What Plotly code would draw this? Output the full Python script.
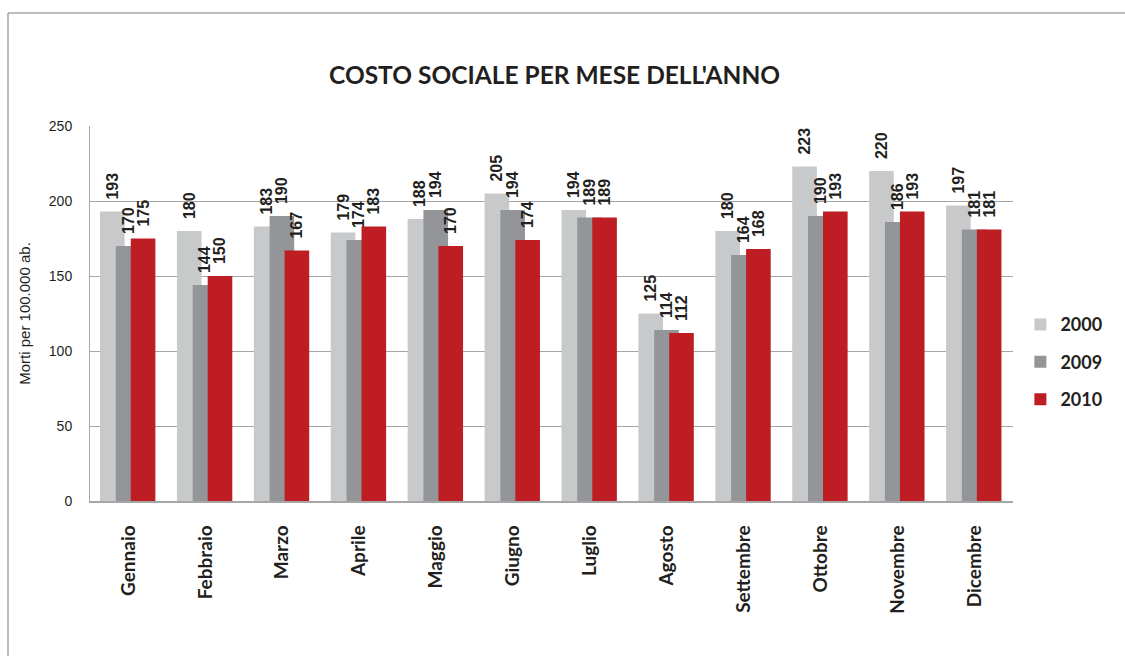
import plotly.graph_objects as go

mesi = ["Gennaio", "Febbraio", "Marzo", "Aprile", "Maggio", "Giugno",
        "Luglio", "Agosto", "Settembre", "Ottobre", "Novembre", "Dicembre"]
v2000 = [193, 180, 183, 179, 188, 205, 194, 125, 180, 223, 220, 197]
v2009 = [170, 144, 190, 174, 194, 194, 189, 114, 164, 190, 186, 181]
v2010 = [175, 150, 167, 183, 170, 174, 189, 112, 168, 193, 193, 181]
anni = ["2000", "2009", "2010"]
colori = ["#c8c9cb", "#939598", "#be1e23"]
offsets = [-0.37, -0.165, 0.03]
PAD = "\u00a0\u00a0"

fig = go.Figure()
for nome, vals, col, off in zip(anni, [v2000, v2009, v2010], colori, offsets):
    fig.add_trace(go.Bar(
        x=mesi, y=vals, name=nome, legendgroup=nome,
        marker=dict(color=col, line=dict(width=0)),
        width=0.32, offset=off,
        text=[PAD + str(v) for v in vals], textposition="outside", textangle=-90,
        textfont=dict(family="Liberation Sans", size=16, color="#231f20",
                      weight="bold"),
        constraintext="none", cliponaxis=False,
    ))

fig.update_layout(
    width=1125, height=656,
    barmode="overlay",
    paper_bgcolor="white", plot_bgcolor="white",
    margin=dict(l=90, r=112, t=126, b=155, autoexpand=False),
    title=dict(text="<b>COSTO SOCIALE PER MESE DELL'ANNO</b>",
               font=dict(family="Lato", size=24.5, color="#231f20"),
               x=0.493, xanchor="center", y=0.885, yanchor="middle"),
    showlegend=True,
    legend=dict(x=1.008, xanchor="left", y=0.37, yanchor="middle",
                font=dict(family="Lato", size=18, color="#231f20",
                          weight="bold"),
                tracegroupgap=11, bgcolor="rgba(0,0,0,0)"),
)
fig.update_xaxes(
    tickangle=-90, showline=True, linecolor="#a6a6a6", linewidth=1.5,
    tickfont=dict(family="Lato", size=19, color="#231f20", weight="bold"),
    ticklabelstandoff=15, showgrid=False,
)
fig.update_yaxes(
    range=[0, 250], dtick=50, showline=True, linecolor="#a6a6a6", linewidth=1,
    gridcolor="#a6a6a6", gridwidth=1, zeroline=False,
    tickfont=dict(family="Liberation Sans", size=14, color="#231f20"),
    ticklabelstandoff=14,
    title=dict(text="Morti per 100.000 ab.",
               font=dict(family="Liberation Sans", size=15, color="#231f20"),
               standoff=14),
)
# outer frame of the chart area: only its top and left edges lie on the page
frame = dict(color="#a6a6a6", width=1.5)
frame_top = (656 - 13 - 155) / 375
frame_left = (8 - 90) / 923
fig.add_shape(type="line", xref="paper", yref="paper",
              x0=frame_left, x1=1.25, y0=frame_top, y1=frame_top,
              line=frame, layer="below")
fig.add_shape(type="line", xref="paper", yref="paper",
              x0=frame_left, x1=frame_left, y0=-0.5, y1=frame_top,
              line=frame, layer="below")
fig.write_html("out.html")
